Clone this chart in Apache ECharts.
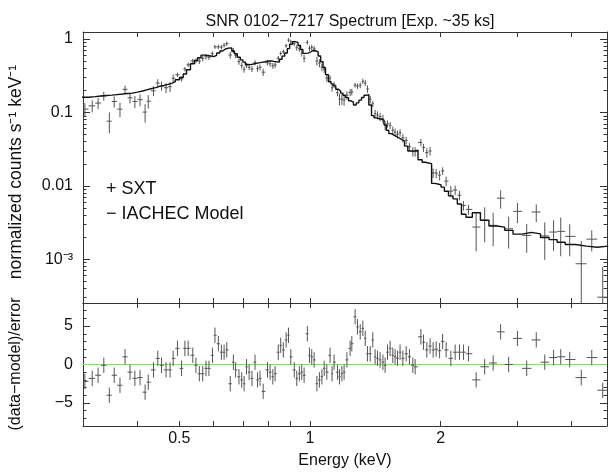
<!DOCTYPE html>
<html><head><meta charset="utf-8">
<script src="https://cdn.jsdelivr.net/npm/echarts@6/dist/echarts.min.js"></script>
<style>html,body{margin:0;padding:0;background:#fff}#c{width:609px;height:472px}</style>
</head><body><div id="c"></div>
<script>
// ---- data ----
const energy = [0.303,0.315,0.325,0.335,0.345,0.354,0.365,0.375,0.385,0.395,
0.406,0.417,0.424,0.436,0.446,0.455,0.466,0.476,0.484,0.495,
0.506,0.515,0.524,0.537,0.546,0.556,0.566,0.576,0.585,0.596,
0.604,0.615,0.625,0.634,0.643,0.655,0.666,0.674,0.686,0.696,
0.705,0.714,0.724,0.735,0.747,0.757,0.767,0.780,0.798,0.809,
0.821,0.831,0.845,0.856,0.868,0.881,0.892,0.903,0.920,0.932,
0.945,0.957,0.969,0.986,0.997,1.009,1.022,1.037,1.051,1.065,
1.078,1.093,1.112,1.124,1.136,1.157,1.169,1.184,1.198,1.216,
1.237,1.248,1.270,1.286,1.305,1.323,1.340,1.356,1.376,1.395,
1.412,1.430,1.450,1.472,1.489,1.508,1.529,1.551,1.570,1.590,
1.612,1.636,1.665,1.694,1.725,1.746,1.800,1.825,1.858,1.890,
1.921,1.952,1.988,2.020,2.058,2.110,2.159,2.209,2.256,2.317,
2.413,2.525,2.641,2.748,2.867,3.004,3.155,3.319,3.472,3.638,
3.779,3.963,4.214,4.455,4.721];

const flux = [0.111,0.123,0.134,0.168,0.076,0.141,0.111,0.206,0.158,0.141,
0.149,0.101,0.142,0.197,0.251,0.230,0.217,0.224,0.292,0.326,
0.287,0.389,0.446,0.503,0.505,0.501,0.545,0.572,0.563,0.630,
0.781,0.783,0.774,0.824,0.865,0.603,0.698,0.595,0.492,0.436,
0.387,0.438,0.412,0.390,0.477,0.397,0.412,0.353,0.476,0.461,
0.432,0.442,0.548,0.636,0.673,0.809,0.965,0.915,0.870,0.762,
0.737,0.647,0.547,0.899,0.745,0.767,0.734,0.502,0.469,0.412,
0.387,0.294,0.293,0.216,0.237,0.186,0.152,0.152,0.147,0.172,
0.187,0.190,0.235,0.228,0.234,0.265,0.252,0.209,0.151,0.131,
0.0962,0.0919,0.0875,0.0820,0.0668,0.0700,0.0667,0.0572,0.0537,0.0503,
0.0528,0.0450,0.0416,0.0341,0.0293,0.0293,0.0390,0.0332,0.0283,0.0298,
0.0150,0.0149,0.0140,0.0160,0.0116,0.00848,0.00878,0.00746,0.00541,0.00478,
0.00275,0.0034,0.0029,0.0068,0.0026,0.0045,0.00212,0.0044,0.00208,0.00235,
0.0024,0.00205,0.00087,0.00188,0.000305];

const fluxErr = [0.0225,0.0230,0.0234,0.0238,0.0241,0.0245,0.0249,0.0253,0.0256,0.0265,
0.0274,0.0284,0.0294,0.0305,0.0316,0.0326,0.0337,0.0349,0.0367,0.0223,
0.0239,0.0266,0.0306,0.0367,0.0407,0.0443,0.0482,0.0477,0.0469,0.0460,
0.0479,0.0515,0.0549,0.0584,0.0601,0.0603,0.0546,0.0504,0.0452,0.0415,
0.0387,0.0359,0.0358,0.0365,0.0373,0.0378,0.0385,0.0392,0.0403,0.0401,
0.0396,0.0391,0.0389,0.0424,0.0467,0.0515,0.0592,0.0678,0.0738,0.0712,
0.0652,0.0719,0.0636,0.0642,0.0665,0.0697,0.0692,0.0669,0.0586,0.0490,
0.0407,0.0327,0.0262,0.0245,0.0230,0.0207,0.0273,0.0256,0.0239,0.0223,
0.0202,0.0193,0.0176,0.0189,0.0206,0.0224,0.0239,0.0245,0.0176,0.0127,
0.0118,0.0116,0.0113,0.0110,0.0095,0.0080,0.0072,0.0069,0.0066,0.0063,
0.0060,0.0057,0.0049,0.0042,0.0042,0.0043,0.0045,0.0042,0.0041,0.0040,
0.0022,0.0021,0.0021,0.0019,0.0017,0.0015,0.0013,0.0011,0.0008,0.00075,
0.00147,0.0017,0.0014,0.0019,0.0012,0.0014,0.0009,0.0012,0.0011,0.00105,
0.0013,0.00095,0.0009,0.0006,0.00048];

const model = [0.161,0.164,0.167,0.170,0.172,0.175,0.178,0.181,0.183,0.189,
0.196,0.203,0.210,0.218,0.226,0.233,0.241,0.249,0.262,0.279,
0.299,0.333,0.382,0.459,0.509,0.554,0.603,0.596,0.586,0.575,
0.599,0.644,0.686,0.730,0.751,0.754,0.682,0.630,0.565,0.519,
0.484,0.449,0.448,0.456,0.466,0.473,0.481,0.490,0.504,0.501,
0.495,0.489,0.486,0.530,0.584,0.644,0.740,0.847,0.922,0.890,
0.815,0.719,0.636,0.642,0.665,0.697,0.692,0.669,0.586,0.490,
0.407,0.327,0.262,0.245,0.230,0.207,0.195,0.183,0.171,0.159,
0.144,0.138,0.126,0.135,0.147,0.160,0.171,0.175,0.126,0.0904,
0.0844,0.0826,0.0807,0.0787,0.0677,0.0572,0.0515,0.0490,0.0471,0.0452,
0.0431,0.0405,0.0348,0.0299,0.0297,0.0306,0.0227,0.0210,0.0205,0.0201,
0.0108,0.0106,0.0103,0.0096,0.00844,0.00731,0.00665,0.00565,0.00410,0.00373,
0.0043,0.0034,0.00284,0.00274,0.00248,0.00220,0.00233,0.00222,0.00198,0.00185,
0.00171,0.00159,0.00151,0.00146,0.00151];

const resid = [-2.2,-1.8,-1.4,-0.1,-4.0,-1.4,-2.7,1.0,-1.0,-1.8,
-1.7,-3.6,-2.3,-0.7,0.8,-0.1,-0.7,-0.7,0.8,2.1,
-0.5,2.1,2.1,1.2,-0.1,-1.2,-1.2,-0.5,-0.5,1.2,
3.8,2.7,1.6,1.6,1.9,-2.5,0.3,-0.7,-1.6,-2.0,
-2.5,-0.3,-1.0,-1.8,0.3,-2.0,-1.8,-3.5,-0.7,-1.0,
-1.6,-1.2,1.6,2.5,1.9,3.2,3.8,1.0,-0.7,-1.8,
-1.2,-1.0,-1.4,4.0,1.2,1.0,0.6,-2.5,-2.0,-1.6,
-0.5,-1.0,1.2,-1.2,0.3,-1.0,-1.6,-1.2,-1.0,0.6,
2.1,2.7,6.2,4.9,4.25,4.7,3.4,1.4,1.4,3.2,
1.0,0.8,0.6,0.3,-0.1,1.6,2.1,1.2,1.0,0.8,
1.6,0.8,1.4,1.0,-0.1,-0.3,3.6,2.9,1.9,2.4,
1.9,2.0,1.8,3.0,1.9,0.8,1.6,1.6,1.6,1.4,
-2.0,-0.3,0.2,4.25,0.0,3.4,-0.5,3.2,0.3,0.9,
1.0,0.65,-1.7,0.9,-3.35];
const residSigma = 1;

// axis ranges / tick values
const xMin = 0.3, xMax = 4.83;
const xTickValues = [0.4,0.5,0.6,0.7,0.8,0.9,1,2,3,4];
const xLabelValues = [0.5,1,2];
const yTopMin = 2.54e-4, yTopMax = 1.245;
const yTopMajor = [0.001,0.01,0.1,1];
const yTopLabels = ['10⁻³','0.01','0.1','1'];
const yTopMinor = [3e-4,4e-4,5e-4,6e-4,7e-4,8e-4,9e-4,
  2e-3,3e-3,4e-3,5e-3,6e-3,7e-3,8e-3,9e-3,
  0.02,0.03,0.04,0.05,0.06,0.07,0.08,0.09,
  0.2,0.3,0.4,0.5,0.6,0.7,0.8,0.9];
const rMin = -8, rMax = 8;
const rMajor = [-5,0,5];
const rMinor = [-7,-6,-4,-3,-2,-1,1,2,3,4,6,7];

const titleText = 'SNR 0102−7217 Spectrum [Exp. ~35 ks]';
const legendTexts = ['+ SXT', '− IACHEC Model'];

// ---- build ----
const FONT = 'Liberation Sans, Arial, Helvetica, sans-serif';
const AX = '#333';
const n = energy.length;
const edges = [];
for (let i = 0; i <= n; i++) {
  if (i === 0) edges.push(energy[0] * energy[0] / Math.sqrt(energy[0] * energy[1]));
  else if (i === n) edges.push(energy[n-1] * energy[n-1] / Math.sqrt(energy[n-2] * energy[n-1]));
  else edges.push(Math.sqrt(energy[i-1] * energy[i]));
}
const topData = energy.map((e, i) => [e, edges[i], edges[i+1], flux[i], flux[i] - fluxErr[i], flux[i] + fluxErr[i]]);
const resData = energy.map((e, i) => [e, edges[i], edges[i+1], resid[i], resid[i] - residSigma, resid[i] + residSigma]);
const modelPath = [];
model.forEach((m, i) => { modelPath.push([edges[i], m]); modelPath.push([edges[i+1], m]); });

function crossRenderer(color, logY) {
  return function (params, api) {
    const cs = params.coordSys;
    const cl = (v, a, b) => Math.max(a, Math.min(b, v));
    const x0 = cs.x, x1 = cs.x + cs.width, y0 = cs.y, y1 = cs.y + cs.height;
    const c = api.coord([api.value(0), api.value(3)]);
    const l = api.coord([api.value(1), api.value(3)]);
    const r = api.coord([api.value(2), api.value(3)]);
    const loV = api.value(4);
    const lo = (logY && !(loV > 0)) ? [c[0], y1 + 10] : api.coord([api.value(0), loV]);
    const hi = api.coord([api.value(0), api.value(5)]);
    const st = { stroke: color, lineWidth: 1 };
    const ch = [];
    if (c[1] >= y0 && c[1] <= y1) {
      ch.push({ type: 'line', shape: { x1: cl(l[0], x0, x1), y1: c[1], x2: cl(r[0], x0, x1), y2: c[1] }, style: st });
    }
    if (c[0] >= x0 && c[0] <= x1) {
      ch.push({ type: 'line', shape: { x1: c[0], y1: cl(lo[1], y0, y1), x2: c[0], y2: cl(hi[1], y0, y1) }, style: st });
    }
    return { type: 'group', children: ch };
  };
}

function xAx(gridIndex, position, showLabel) {
  return {
    type: 'log', logBase: 10, gridIndex, position, min: xMin, max: xMax,
    axisLine: { show: true, onZero: false, lineStyle: { color: AX, width: 1 } },
    axisTick: { show: true, inside: true, length: 5, customValues: xTickValues, lineStyle: { color: AX } },
    axisLabel: { show: showLabel, customValues: xLabelValues, fontSize: 16, fontFamily: FONT, color: '#111', margin: 5,
      formatter: v => String(+(+v).toPrecision(3)) },
    splitLine: { show: false }, minorTick: { show: false }
  };
}
function yTop(position, major, showLabel) {
  return {
    type: 'log', logBase: 10, gridIndex: 0, position, min: yTopMin, max: yTopMax,
    axisLine: { show: major, onZero: false, lineStyle: { color: AX, width: 1 } },
    axisTick: { show: true, inside: true, length: major ? 7 : 3.5, customValues: major ? yTopMajor : yTopMinor, lineStyle: { color: AX } },
    axisLabel: { show: showLabel, customValues: yTopMajor, fontSize: 16, fontFamily: FONT, color: '#111', margin: 10,
      formatter: v => { let best = 0; yTopMajor.forEach((m, i) => { if (Math.abs(Math.log10(m) - Math.log10(v)) < Math.abs(Math.log10(yTopMajor[best]) - Math.log10(v))) best = i; }); return yTopLabels[best]; } },
    splitLine: { show: false }
  };
}
function yRes(position, major, showLabel) {
  return {
    type: 'value', gridIndex: 1, position, min: rMin, max: rMax,
    axisLine: { show: major, onZero: false, lineStyle: { color: AX, width: 1 } },
    axisTick: { show: true, inside: true, length: major ? 7 : 3.5, customValues: major ? rMajor : rMinor, lineStyle: { color: AX } },
    axisLabel: { show: showLabel, customValues: rMajor, fontSize: 16, fontFamily: FONT, color: '#111', margin: 10,
      formatter: v => (v < 0 ? '−' + Math.abs(v) : String(v)) },
    splitLine: { show: false }
  };
}

const option = {
  animation: false,
  backgroundColor: '#fff',
  title: { text: titleText, left: 345, top: 9, textAlign: 'center',
    textStyle: { fontSize: 16, fontWeight: 'normal', fontFamily: FONT, color: '#111' } },
  grid: [
    { left: 83, top: 32, width: 524, height: 271, containLabel: false },
    { left: 83, top: 303, width: 524, height: 123, containLabel: false }
  ],
  xAxis: [ xAx(0, 'bottom', false), xAx(0, 'top', false), xAx(1, 'bottom', true), xAx(1, 'top', false) ],
  yAxis: [ yTop('left', true, true), yTop('left', false, false), yTop('right', true, false), yTop('right', false, false),
           yRes('left', true, true), yRes('left', false, false), yRes('right', true, false), yRes('right', false, false) ],
  graphic: [
    { type: 'text', left: 106, top: 180, style: { text: legendTexts[0], font: '18px ' + FONT, fill: '#111' } },
    { type: 'text', left: 106, top: 205, style: { text: legendTexts[1], font: '18px ' + FONT, fill: '#111' } },
    { type: 'text', x: 16, y: 172, rotation: Math.PI / 2, style: { text: 'normalized counts s⁻¹ keV⁻¹', font: '17.5px ' + FONT, fill: '#111', textAlign: 'center', textVerticalAlign: 'middle' } },
    { type: 'text', x: 16, y: 364, rotation: Math.PI / 2, style: { text: '(data−model)/error', font: '16px ' + FONT, fill: '#111', textAlign: 'center', textVerticalAlign: 'middle' } },
    { type: 'text', x: 345, y: 461, style: { text: 'Energy (keV)', font: '16px ' + FONT, fill: '#111', textAlign: 'center', textVerticalAlign: 'middle' } }
  ],
  series: [
    { type: 'custom', name: 'SXT', xAxisIndex: 0, yAxisIndex: 0, data: topData, encode: { x: 0, y: 3 },
      renderItem: crossRenderer('#555', true), z: 2 },
    { type: 'line', name: 'IACHEC Model', xAxisIndex: 0, yAxisIndex: 0, data: modelPath, showSymbol: false, symbol: 'none',
      lineStyle: { color: '#111', width: 1.4 }, clip: true, z: 3 },
    { type: 'line', name: 'zero', xAxisIndex: 2, yAxisIndex: 4, data: [[xMin, 0], [xMax, 0]], showSymbol: false, symbol: 'none',
      lineStyle: { color: '#77ee44', width: 1.2 }, z: 1 },
    { type: 'custom', name: 'resid', xAxisIndex: 2, yAxisIndex: 4, data: resData, encode: { x: 0, y: 3 },
      renderItem: crossRenderer('#555', false), z: 2 }
  ]
};
const chart = echarts.init(document.getElementById('c'), null, { renderer: 'canvas', width: 609, height: 472 });
chart.setOption(option);
</script>
</body></html>
